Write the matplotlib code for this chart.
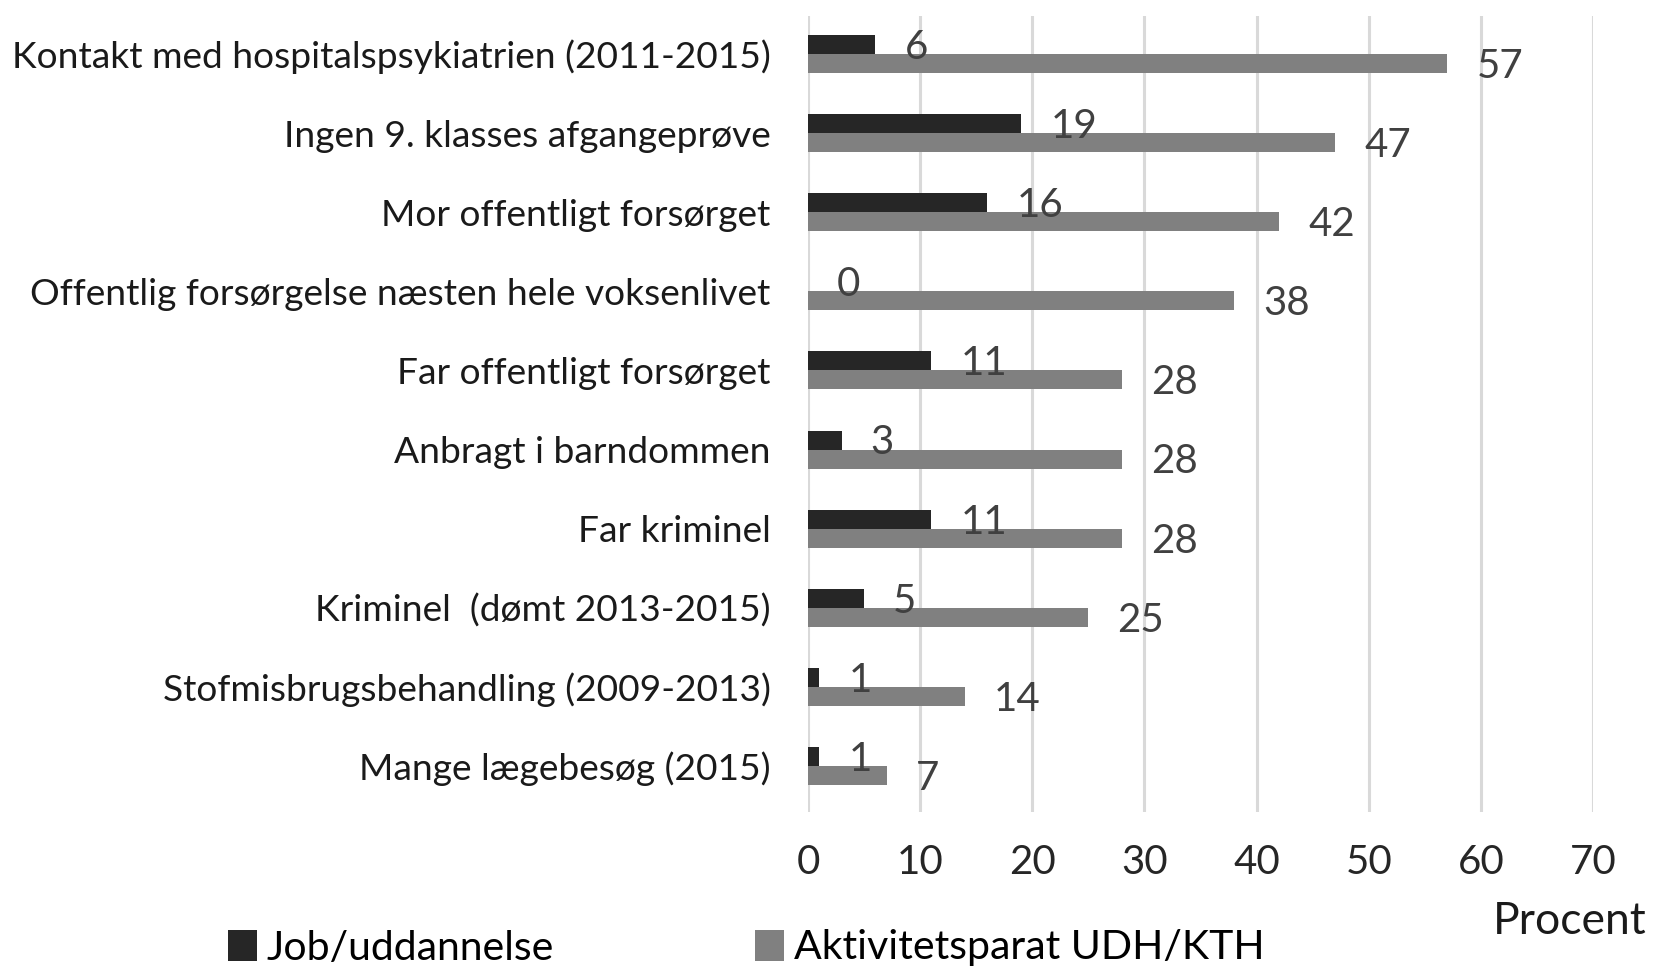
import matplotlib
matplotlib.use("Agg")
import matplotlib.pyplot as plt
from matplotlib.patches import Patch
import numpy as np

categories = [
    "Kontakt med hospitalspsykiatrien (2011-2015)",
    "Ingen 9. klasses afgangeprøve",
    "Mor offentligt forsørget",
    "Offentlig forsørgelse næsten hele voksenlivet",
    "Far offentligt forsørget",
    "Anbragt i barndommen",
    "Far kriminel",
    "Kriminel  (dømt 2013-2015)",
    "Stofmisbrugsbehandling (2009-2013)",
    "Mange lægebesøg (2015)",
]
job_uddannelse = [6, 19, 16, 0, 11, 3, 11, 5, 1, 1]
aktivitetsparat = [57, 47, 42, 38, 28, 28, 28, 25, 14, 7]
series_names = ["Job/uddannelse", "Aktivitetsparat UDH/KTH"]
x_ticks = [0, 10, 20, 30, 40, 50, 60, 70]
x_title = "Procent"

FONT = "Lato"
plt.rcParams["font.family"] = [FONT, "DejaVu Sans"]

fig = plt.figure(figsize=(16.54, 9.67), dpi=100)
ax = fig.add_axes([808/1654, 1-812/967, (1593-808)/1654, (812-16)/967])

c_black = "#262626"
c_gray = "#808080"
y = np.arange(len(categories))
h = 0.24
ax.barh(y - h/2, job_uddannelse, height=h, color=c_black, zorder=3)
ax.barh(y + h/2, aktivitetsparat, height=h, color=c_gray, zorder=3)

for yi, v in zip(y, job_uddannelse):
    ax.annotate(str(v), (v, yi - h/2), xytext=(21, -2), textcoords="offset points",
                ha="left", va="center", fontsize=29, color="#404040", zorder=4)
for yi, v in zip(y, aktivitetsparat):
    ax.annotate(str(v), (v, yi + h/2), xytext=(21, -2), textcoords="offset points",
                ha="left", va="center", fontsize=29, color="#404040", zorder=4)

ax.set_xlim(0, 70)
ax.set_ylim(len(categories) - 1 + 0.58, -0.48)
ax.set_xticks(x_ticks)
ax.set_xticklabels([str(t) for t in x_ticks], fontsize=29, color="#262626")
ax.set_yticks(y)
ax.set_yticklabels(categories, fontsize=26.7, color="#1a1a1a")
ax.tick_params(axis="both", length=0)
ax.tick_params(axis="y", pad=27)
ax.tick_params(axis="x", pad=23)
for s in ax.spines.values():
    s.set_visible(False)
ax.grid(axis="x", color="#d9d9d9", linewidth=2.2, zorder=0)
ax.set_axisbelow(True)

fig.text(1647/1654, 1-921/967, x_title, ha="right", va="center", fontsize=32, color="#1a1a1a")

handles = [Patch(facecolor=c_black), Patch(facecolor=c_gray)]
fig.legend(handles, series_names, loc="center left", bbox_to_anchor=(228/1654, 1-948/967),
           ncol=2, frameon=False, fontsize=29.5, handlelength=0.7, handleheight=0.8,
           handletextpad=0.25, columnspacing=4.9, borderaxespad=0, borderpad=0)

fig.savefig("out.png", dpi=100)
